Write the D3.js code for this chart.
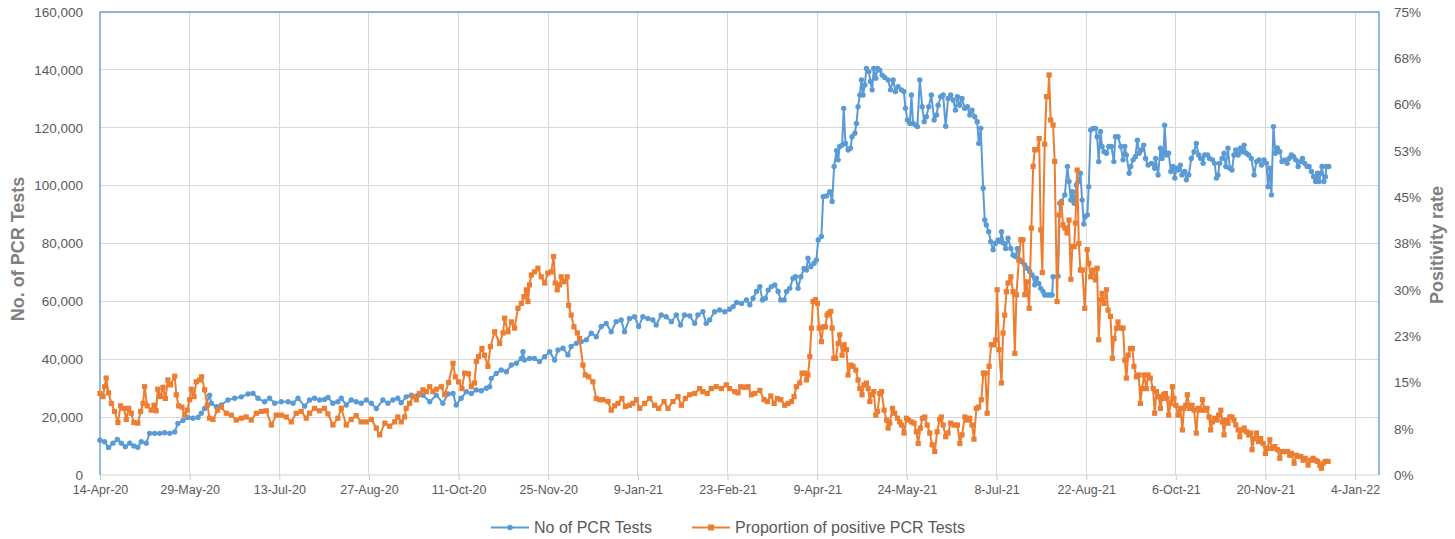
<!DOCTYPE html>
<html>
<head>
<meta charset="utf-8">
<script src="https://cdn.jsdelivr.net/npm/d3@7"></script>
<style>
  body { margin: 0; background: #ffffff; }
  svg { display: block; font-family: "Liberation Sans", Arial, sans-serif; }
</style>
</head>
<body>
<svg id="chart" width="1455" height="539"></svg>
<script>
// ---------------- DATA ----------------
// x values are days since 14-Apr-20
const xTickLabels = ["14-Apr-20","29-May-20","13-Jul-20","27-Aug-20","11-Oct-20","25-Nov-20","9-Jan-21",
  "23-Feb-21","9-Apr-21","24-May-21","8-Jul-21","22-Aug-21","6-Oct-21","20-Nov-21","4-Jan-22"];
const xTickDays = [0,45,90,135,180,225,270,315,360,405,450,495,540,585,630];
const leftTicks = [0,20000,40000,60000,80000,100000,120000,140000,160000];
const rightTickValues = [0,7.5,15,22.5,30,37.5,45,52.5,60,67.5,75];
const rightTickLabels = ["0%","8%","15%","23%","30%","38%","45%","53%","60%","68%","75%"];
const seriesNames = ["No of PCR Tests","Proportion of positive PCR Tests"];

const testDay = [0,2.3,4.3,6.5,8.7,10.7,12.7,14.9,17,19, 20.7,23.2,24.9,27.4,29.9,32.4,35,37.5,39.1,41.6,
 44.1,46.6,49.2,50.8,52.5,55,55.9,58.4,60.9,64.2, 67.6,70.9,74.3,76.8,79.3,82.6,85.1,87.7,91,94.4,
 96.9,99.4,102.7,105.2,107.7,110.2,112.7,114.4,116.9,119.4, 121.1,123.6,126.1,128.6,131.1,133.7,136.2,138.7,142,144.5,
 147,149.5,151.2,153.7,156.2,159.6,162.1,165.5,168.8,172.1, 174.7,177.2,178.8,181.3,183.9,186.4,188.9,191.4,193.9,195.6,
 196.4,198.9,201.4,204,206.5,209,211.5,212.3,213.1,215.6, 218.1,220.6,223.2,225.7,228.2,229.9,232.4,234.9,236.5,239.1,
 241.6,244.1,246.6,249.1,251.6,254.1,256.6,259.1,261.6,263.3, 265.8,268.3,270.4,272.5,275,277.5,279.2,281.7,284.2,286.8,
 289.3,291.4,293.4,296,298.5,300.1,302.6,304.3,306,308.5, 311,313.6,316,317.8,319.5,322,324.5,326.2,327.8,329.5,
 331.2,332.5,334,335.4,337,338.7,340.4,341.7,343.4,344.6, 346.2,347.9,349.1,350.4,351.8,353.4,354.6,355.4,356.8,358.4,
 359.6,360.5,362.1,363,364.6,366.3,367.5,368.5,369.7,370.5, 371.3,372.5,373.3,374.2,375.5,376.7,377.5,378.9,379.7,380.5,
 381.4,382.2,383,383.9,384.7,385.9,386.7,387.6,388.4,389.4, 390.3,391.4,392.6,393.9,395.6,396.8,398.1,399.3,400.6,402.3,
 403.5,404.3,405.3,406.5,407.3,408.1,409.3,410.3,411.5,412.7, 413.7,414.8,416,417.3,418.7,419.9,420.7,422,423.2,424.5,
 425.7,427,428.2,429.4,430.4,431.5,432.7,434,435.4,436.6, 437.7,439.1,440.3,441.1,442.1,443.3,444.1,444.9,446.1,447.1,
 448.3,449.5,450.8,452,452.5,453.6,454.6,455.8,457.2,458.3, 459.5,460.5,461.7,462.8,464.2,465.5,466.7,467.9,469.2,470,
 471.2,472.2,473.4,474.2,475.6,476.7,477.9,478.4,480.9,481.8, 482.6,484.3,485.6,486.4,487.3,488.1,489,490.1,491,492.1,
 493,493.8,494.6,495.6,496.3,497.3,498.5,499.7,500.5,501.3, 502.2,503,504,505.2,506.4,507.7,508.9,509.7,511,512.4,
 513.5,514.4,515.2,516.6,517.4,518.6,519.7,520.7,521.6,522.7, 523.9,524.8,526.1,527.8,529.4,529.9,531.1,532.3,533.1,533.9,
 534.4,535.3,536.4,537.5,538.6,539.5,540.3,541.1,542.3,543.1, 544.5,545.3,546.5,547.8,549.2,550.3,551.5,552.5,553.7,554.5,
 555.9,557,558.4,559.5,560.4,561.2,562,563.2,564.2,565.1, 566.2,567.1,568.2,569.2,570.1,571.3,572.4,573.3,574.3,575.4,
 576.6,577.9,579.3,580.5,581.8,583,584.3,585.5,586.3,587.2, 588,589,590,591,592.2,593.3,594.7,595.9,596.9,598,
 599.2,600.2,601.4,602.5,603.6,604.7,605.9,606.9,608.1,609.2, 610.2,611.1,611.9,612.8,613.4,614.3,615.1,615.6,616.8];

const testCount = [12000,11500,9500,11000,12300,11000,9800,11000,10000,9600,
 11500,11000,14400,14400,14400,14600,14400,14900,17800,18800,
 19900,19600,19900,21300,23000,27600,24800,23600,24200,25900,
 26500,27000,28000,28200,26500,25300,26500,24800,25300,25300,
 24800,26500,23800,25900,26500,25900,26100,26800,24800,25300,
 26500,24200,25900,25300,24800,25900,24800,23000,25900,24800,
 25900,26500,25000,27000,27600,27600,27600,25300,27600,24800,
 28000,28200,24200,26500,28800,28200,29400,29100,30000,30500,
 33400,35100,36300,35700,38000,38600,40300,42600,39700,40300,
 40300,39200,40900,42600,39700,43200,43800,41500,44400,45500,
 46100,46700,49000,47800,51300,52400,49500,53000,53600,49500,
 54100,54700,51300,54700,54100,53600,51800,55300,54700,53000,
 55300,51800,55300,55000,52400,55300,56400,52400,53600,56400,
 57000,56400,57300,58200,59600,59300,60500,58800,61100,63400,
 65100,60500,61100,63900,65100,65700,63400,60500,60500,63400,
 64500,68000,68500,64500,68500,71400,70800,74900,72000,73200,
 74300,81200,82400,96200,96400,97900,94500,106600,112100,108900,
 113500,114000,126700,114600,112300,112900,116900,118100,121500,127300,
 131300,136500,131300,134800,140500,139400,136000,133100,140500,137100,
 140500,139900,138200,137400,136500,133100,136500,132500,134200,133100,
 132500,126700,122700,121500,131300,121500,121000,120400,136500,127300,
 122100,123800,127300,131300,122700,124400,127800,130700,131300,120500,
 130100,131300,129600,126100,130700,127800,130100,126700,127300,124400,
 126100,123800,122100,114600,119800,99100,88100,86400,84100,80600,
 77800,80100,81200,80600,84100,80100,78300,81800,78300,76000,
 75500,78300,74300,73700,72600,71400,70300,69100,65700,68000,
 66200,64500,63400,62200,62200,62200,62200,68500,68700,93900,
 94500,96800,106600,101400,95000,97900,93900,100200,101400,104300,
 95000,86700,89300,89900,99600,119200,119800,119800,116900,108300,
 118700,113500,111700,111200,113500,113500,108300,116900,116900,113500,
 108900,113500,110600,104300,106600,108900,110000,115700,111200,112300,
 114000,109400,107100,107700,106000,109400,103700,112900,109400,111700,
 120900,110600,111200,104900,106600,102600,106000,105400,107100,103700,
 104900,102000,103700,109400,111700,114600,110600,109400,107700,110600,
 110600,109400,108900,107700,102600,103700,107700,109400,111200,106600,
 112900,106000,105400,110600,112300,110600,112900,111700,114000,111200,
 110600,109400,103700,108300,108900,107100,108900,107700,99600,106000,
 96800,120400,111200,113000,111700,108300,108900,107700,109400,110600,
 110000,108900,106600,108300,109400,107700,106600,106600,104900,103100,
 101400,104300,101400,104300,106600,101400,103100,106600,106600];

const posDay = [0,1.5,2.3,3.1,4.3,5.7,7.3,9,10.3,12, 13.2,14.4,15.7,17,19,20.4,21.6,22.4,23.7,25.7,
 27.1,28.2,29,30.4,31.6,32.8,34.1,35.4,37.5,38.3, 39.5,41.1,42.5,43.8,45,45.8,47.2,48.3,50,51,
 52.5,53.9,55,56.7,59,60.9,63.4,65.9,68.4,70.9, 73.4,75.9,78.5,81,83.5,86,88.5,91,93.5,96,
 98.5,101,103.5,105.2,107.7,110.2,112.7,114.4,116.9,119.4, 121.1,123.6,126.1,128.6,131.1,133.7,136.2,138.7,140.4,143,
 145.4,147.9,149.5,151.2,152.9,153.7,155.4,157.1,158.8,160.4, 162.1,163.8,165.5,167.1,168.8,171.3,173,175,177.2,178.3,
 180,181.7,183,185,186.4,188,188.9,190,191.7,193, 194.7,196,198.1,200.6,202.3,203.1,204.8,206.5,208.1,209.8,
 211.5,212.8,214,214.8,215.6,216.5,218.1,219.8,221.5,223.2, 224.8,226.5,227.7,228.5,229.5,230.7,231.5,232.9,234.5,235.2,
 236.5,237.9,239.6,240.7,242.4,243.6,245.3,247.4,249.1,250.8, 252.4,255,256.6,258.3,260,262,263.7,265.8,267.5,269.2,
 270.9,273.4,275.9,278.4,280.4,283.1,285.1,287.6,290.1,291.8, 293.8,296,298.5,301,302.6,304.8,306.8,309.3,311.9,314.4,
 316,318.6,320.3,321.6,323.6,325.3,327,328.7,331.2,333.3, 335,336.7,338.4,340,341.7,343.7,345.4,347.1,348.4,349.6,
 351.2,352.4,353.8,354.6,355.4,356.3,357.1,357.9,359.1,360.1, 361,362.1,363,364.1,365,365.8,366.8,367.5,368.3,369.3,
 370.5,371.3,372.5,373.5,374.7,375.5,376.9,378,379.4,380.5, 381.4,382.5,383.5,384.7,385.6,386.4,387.2,388.4,389.4,390.3,
 391.4,392.3,393.6,394.8,395.6,396.4,397.8,398.9,400.3,401.4, 402.3,403.6,404.8,405.9,407.3,408.6,409.8,410.7,411.8,412.8,
 414,415.2,416.5,417.7,419,420.2,421.5,422.3,423.2,424.5, 425.7,427,428.7,430.4,431.6,432.7,434.1,435.4,436.6,437.7,
 438.7,439.9,441.1,442.4,443.4,444.4,445.3,446.3,447.4,448.8, 449.6,450.3,451.3,452.5,453.3,454.1,455,455.8,457.2,458.3,
 459.2,460,461.2,462.2,463.3,464.2,465.2,466.4,467.5,468.4, 469.2,470.4,471.4,472.2,473,474.2,475.1,475.9,476.4,477.2,
 478.4,479.2,480.4,481.4,482.6,483.4,484.3,485.4,486.4,487.3, 488.1,489,489.6,490.5,491.3,492.1,493.1,494.3,495.5,496.3,
 497.3,498.5,499.7,500.5,501.3,502.2,503,504,505.2,506, 507.2,508.2,509,510.2,511,512.2,513.5,514.4,515.2,516.1,
 517.2,518.2,519,520.2,521.4,522.2,523.1,524.1,525.2,526.1, 527.2,528.6,529.4,530.3,531.4,532.3,533.1,533.9,534.8,535.6,
 536.4,537.5,538.3,539.1,540,541.1,542.3,543.3,544.1,545, 545.8,547,548.2,549.2,550.3,551.2,552.3,553.4,554.5,555.7,
 556.7,557.5,558.4,559.5,560.7,561.5,562.6,563.4,564.2,565.1, 566.2,567.1,568.2,569.2,570.1,571.3,572.1,573.3,574.3,575.4,
 576.6,577.6,578.3,579.3,580.5,581.6,582.6,583.8,585,585.8, 587.2,588.3,589.7,591,592.2,593.3,594.7,596,597.2,598,
 599.4,600.5,601.7,602.7,603.9,605,606.4,607.6,608.9,610.1, 611.1,612.3,613.1,613.9,615.1,616.4];

// positivity rate in percent
const posRate = [13.2,12.7,14.3,15.7,13.3,11.6,10.3,8.5,11.2,10.8, 9.0,10.8,10.0,8.5,8.4,10.3,11.6,14.3,11.2,10.5,
 11.3,10.4,13.9,12.7,14.2,12.4,15.4,14.6,16.0,13.0, 11.2,11.0,9.7,10.5,12.2,13.9,12.7,15.1,15.4,15.9,
 13.8,11.3,9.2,9.0,10.5,11.0,10.0,9.7,8.9,9.2, 9.4,8.9,10.0,10.3,10.4,8.1,9.7,9.7,9.4,8.6,
 10.0,10.3,9.2,10.0,10.8,10.4,10.8,9.9,8.1,9.2, 10.8,8.1,9.0,9.6,8.6,8.6,9.0,7.6,6.5,8.4,
 7.9,8.6,9.4,8.6,9.4,10.8,11.6,12.7,12.2,13.2, 13.8,13.5,14.3,13.5,13.9,14.3,13.0,15.0,18.1,15.9,
 15.1,14.0,16.5,16.4,14.3,14.9,18.4,19.2,20.5,19.4, 17.6,20.8,23.2,21.3,23.0,25.4,23.2,24.8,23.8,27.0,
 27.8,28.9,30.0,28.1,30.8,32.4,32.9,33.5,32.1,31.1, 32.7,32.9,35.4,31.1,30.0,30.8,32.1,31.3,32.1,27.5,
 25.9,24.0,23.0,22.1,17.8,16.2,15.9,15.1,12.4,12.2, 12.2,11.9,10.5,11.2,11.6,12.4,11.1,11.3,11.6,12.2,
 10.8,11.6,12.4,11.3,10.8,11.9,10.8,11.9,12.7,11.3, 12.4,13.0,13.2,14.0,13.5,13.2,14.0,14.3,14.0,14.6,
 14.0,13.5,13.3,14.3,14.2,14.3,13.0,13.2,13.7,12.2, 11.9,12.8,11.6,12.4,12.2,11.3,11.6,11.9,12.7,14.3,
 14.9,16.5,16.5,15.4,16.2,19.2,23.8,28.1,28.4,27.8, 23.8,21.6,24.0,24.0,25.9,26.2,26.5,23.8,18.9,18.9,
 21.3,22.7,19.4,21.1,20.3,16.2,17.8,17.6,17.0,15.4, 14.0,13.0,14.6,14.9,14.0,11.9,13.0,13.5,9.7,10.3,
 13.2,13.5,10.5,8.9,7.6,8.4,10.8,10.0,9.2,8.6, 8.1,6.8,9.2,8.9,8.6,8.4,7.0,5.1,7.6,9.2,
 9.4,8.1,6.8,4.9,3.8,7.0,9.0,9.4,8.1,6.2, 6.8,8.4,8.1,8.1,5.1,6.5,9.4,8.9,9.2,8.1,
 5.8,10.8,11.0,12.2,16.5,16.5,10.0,17.6,21.1,21.1, 21.9,30.0,20.3,14.9,23.0,25.9,29.7,31.1,32.1,29.7,
 19.7,29.2,34.8,38.1,38.1,29.2,31.3,27.0,40.0,50.0, 52.7,52.7,54.5,39.7,32.8,53.6,61.3,61.3,64.8,57.5,
 56.7,50.8,28.1,42.1,44.1,40.5,40.0,39.2,41.3,31.7, 37.0,37.0,40.8,49.4,37.5,33.2,33.2,27.0,36.5,34.3,
 32.1,33.2,31.6,33.5,21.9,28.4,29.4,27.8,30.0,26.7, 25.7,18.9,22.1,23.8,24.8,23.8,23.8,18.6,15.7,19.4,
 20.5,20.5,17.6,15.9,16.2,11.6,14.0,16.2,14.0,16.2, 15.7,14.0,10.0,13.5,12.7,10.8,12.4,13.0,13.2,12.4,
 9.7,11.6,14.3,12.4,11.3,9.7,10.8,7.3,10.8,11.3, 13.0,10.8,11.3,10.5,6.8,10.8,10.5,12.2,10.5,10.8,
 9.4,7.3,8.6,9.2,8.9,9.7,10.5,8.6,6.5,8.9, 8.4,9.4,9.4,8.9,8.1,7.3,6.2,7.3,7.6,7.0,
 6.5,6.8,4.1,5.9,6.8,5.4,5.9,5.1,3.5,4.3, 5.7,4.3,4.6,4.1,2.7,3.8,3.8,3.8,3.2,3.5,
 1.9,3.2,3.0,3.0,2.4,2.7,1.6,2.4,2.7,2.4, 2.2,1.6,1.1,1.9,2.2,2.2];

// ---------------- CHART ----------------
const L = 100, R = 1379, T = 12, B = 475;
const BLUE = "#5b9bd5", ORANGE = "#ed7d31";
const GRID = "#d9d9d9", TXT = "#595959";

const svg = d3.select("#chart");
const x = d3.scaleLinear().domain([0, 642]).range([L, R]);
const yL = d3.scaleLinear().domain([0, 160000]).range([B, T]);
const yR = d3.scaleLinear().domain([0, 75]).range([B, T]);

// gridlines
svg.append("g").selectAll("line").data(leftTicks.filter(d => d > 0)).join("line")
  .attr("x1", L).attr("x2", R).attr("y1", d => yL(d)).attr("y2", d => yL(d))
  .attr("stroke", GRID).attr("stroke-width", 1).attr("shape-rendering", "crispEdges");
svg.append("g").selectAll("line").data(xTickDays.filter(d => d > 0)).join("line")
  .attr("x1", d => x(d)).attr("x2", d => x(d)).attr("y1", T).attr("y2", B)
  .attr("stroke", GRID).attr("stroke-width", 1).attr("shape-rendering", "crispEdges");

// bottom axis
const xAxis = d3.axisBottom(x).tickValues(xTickDays).tickFormat((d, i) => xTickLabels[i])
  .tickSize(5).tickPadding(5);
const gx = svg.append("g").attr("transform", `translate(0,${B})`).call(xAxis);
gx.select(".domain").remove();
gx.selectAll(".tick line").attr("stroke", "#c8c8c8");
gx.selectAll(".tick text").attr("fill", TXT).style("font-size", "12.5px")
  .style("font-family", '"Liberation Sans", Arial, sans-serif');
svg.append("line").attr("x1", L).attr("x2", R).attr("y1", B).attr("y2", B)
  .attr("stroke", "#d0d0d0").attr("stroke-width", 1.2);

// left axis
const yAxisL = d3.axisLeft(yL).tickValues(leftTicks).tickFormat(d3.format(",")).tickSize(0).tickPadding(17);
const gyl = svg.append("g").attr("transform", `translate(${L},0)`).call(yAxisL);
gyl.select(".domain").remove();
gyl.selectAll(".tick text").attr("fill", TXT).style("font-size", "13.5px")
  .style("font-family", '"Liberation Sans", Arial, sans-serif');

// right axis
const yAxisR = d3.axisRight(yR).tickValues(rightTickValues).tickFormat((d, i) => rightTickLabels[i])
  .tickSize(0).tickPadding(15);
const gyr = svg.append("g").attr("transform", `translate(${R},0)`).call(yAxisR);
gyr.select(".domain").remove();
gyr.selectAll(".tick text").attr("fill", TXT).style("font-size", "13.5px")
  .style("font-family", '"Liberation Sans", Arial, sans-serif');

// plot border (left, top, right)
svg.append("path")
  .attr("d", `M${L},${B} V${T} H${R} V${B}`)
  .attr("fill", "none").attr("stroke", "#6fa3d8").attr("stroke-width", 1.5);

// axis titles
svg.append("text").attr("transform", `translate(24,249) rotate(-90)`)
  .attr("text-anchor", "middle").attr("fill", "#7f7f7f")
  .style("font-size", "18px").style("font-weight", "bold").text("No. of PCR Tests");
svg.append("text").attr("transform", `translate(1443,245) rotate(-90)`)
  .attr("text-anchor", "middle").attr("fill", "#7f7f7f")
  .style("font-size", "18px").style("font-weight", "bold").text("Positivity rate");

// series
const testData = testDay.map((d, i) => [d, testCount[i]]);
const posData = posDay.map((d, i) => [d, posRate[i]]);

const lineT = d3.line().x(d => x(d[0])).y(d => yL(d[1]));
svg.append("path").datum(testData).attr("d", lineT)
  .attr("fill", "none").attr("stroke", BLUE).attr("stroke-width", 2).attr("stroke-linejoin", "round");
svg.append("g").selectAll("circle").data(testData).join("circle")
  .attr("cx", d => x(d[0])).attr("cy", d => yL(d[1])).attr("r", 2.7).attr("fill", BLUE);

const lineP = d3.line().x(d => x(d[0])).y(d => yR(d[1]));
svg.append("path").datum(posData).attr("d", lineP)
  .attr("fill", "none").attr("stroke", ORANGE).attr("stroke-width", 2).attr("stroke-linejoin", "round");
const sq = 5.2;
svg.append("g").selectAll("rect").data(posData).join("rect")
  .attr("x", d => x(d[0]) - sq / 2).attr("y", d => yR(d[1]) - sq / 2)
  .attr("width", sq).attr("height", sq).attr("fill", ORANGE);

// legend
const lg = svg.append("g").style("font-size", "16px");
lg.append("line").attr("x1", 491).attr("x2", 529).attr("y1", 527.5).attr("y2", 527.5)
  .attr("stroke", BLUE).attr("stroke-width", 2);
lg.append("circle").attr("cx", 510).attr("cy", 527.5).attr("r", 2.8).attr("fill", BLUE);
lg.append("text").attr("x", 534).attr("y", 533).attr("fill", TXT).text(seriesNames[0]);
lg.append("line").attr("x1", 692).attr("x2", 730).attr("y1", 527.5).attr("y2", 527.5)
  .attr("stroke", ORANGE).attr("stroke-width", 2);
lg.append("rect").attr("x", 711 - 3).attr("y", 527.5 - 3).attr("width", 6).attr("height", 6).attr("fill", ORANGE);
lg.append("text").attr("x", 735).attr("y", 533).attr("fill", TXT).text(seriesNames[1]);
</script>
</body>
</html>
